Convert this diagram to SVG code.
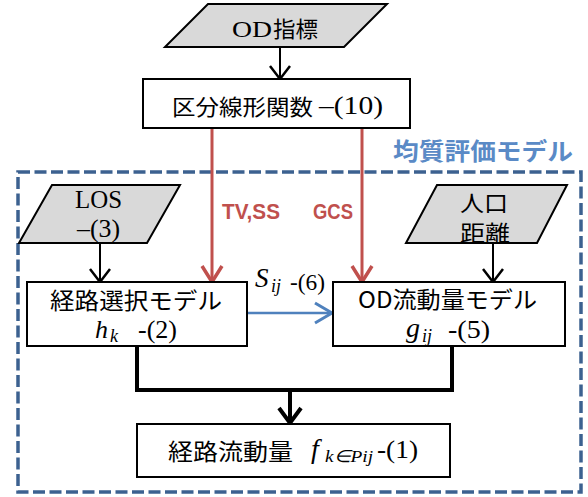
<svg xmlns="http://www.w3.org/2000/svg" width="588" height="497" viewBox="0 0 588 497">
<style>
.bg{fill:#ffffff}
.box{fill:#ffffff;stroke:#000000;stroke-width:2}
.para{fill:#d9d9d9;stroke:#000000;stroke-width:2}
.jp{font-family:"Noto Sans CJK JP","Noto Sans",sans-serif;fill:#000000}
.tm{font-family:"Liberation Serif","Times New Roman",serif;fill:#000000}
.mi{font-family:"Liberation Serif","Times New Roman",serif;font-style:italic;fill:#000000}
.lab{font-family:"Liberation Sans","Open Sans",sans-serif;font-weight:bold;fill:#c0504d}
.grp{font-family:"Noto Sans CJK JP","Noto Sans",sans-serif;font-weight:bold;fill:#5a8ac6}
.blk{fill:none;stroke:#000000;stroke-width:2}
.thick{fill:none;stroke:#000000;stroke-width:4}
.red{fill:none;stroke:#c0504d;stroke-width:3}
.blue{fill:none;stroke:#4f81bd;stroke-width:2.5}
.dash{fill:none;stroke:#3c6190;stroke-width:3.5;stroke-dasharray:12 4.5}
</style>
<defs>
<marker id="ahB" viewBox="-16 -12 18 24" refX="0" refY="0" markerWidth="18" markerHeight="24" markerUnits="userSpaceOnUse" orient="auto">
<path d="M-13,-10 L0,0 L-13,10" fill="none" stroke="#000000" stroke-width="2.5"/>
</marker>
<marker id="ahT" viewBox="-18 -14 21 28" refX="0" refY="0" markerWidth="21" markerHeight="28" markerUnits="userSpaceOnUse" orient="auto">
<path d="M-15,-11 L0,0 L-15,11" fill="none" stroke="#000000" stroke-width="4"/>
</marker>
<marker id="ahR" viewBox="-18 -13 21 26" refX="0" refY="0" markerWidth="21" markerHeight="26" markerUnits="userSpaceOnUse" orient="auto">
<path d="M-16,-10 L0,0 L-16,10" fill="none" stroke="#c0504d" stroke-width="3.5"/>
</marker>
<marker id="ahU" viewBox="-18 -13 21 26" refX="0" refY="0" markerWidth="21" markerHeight="26" markerUnits="userSpaceOnUse" orient="auto">
<path d="M-17,-10 L0,0 L-17,10" fill="none" stroke="#4f81bd" stroke-width="3"/>
</marker>
</defs>
<rect class="bg" x="0" y="0" width="588" height="497"/>

<g id="group-homogeneous">
<rect class="dash" x="18" y="172" width="563" height="320"/>
<text class="grp" x="393" y="160" font-size="24" textLength="180" lengthAdjust="spacingAndGlyphs">均質評価モデル</text>
</g>

<g id="connectors">
<line class="blk" x1="280" y1="47" x2="280" y2="79" marker-end="url(#ahB)"/>
<line class="red" x1="212" y1="128" x2="212" y2="282" marker-end="url(#ahR)"/>
<line class="red" x1="362" y1="128" x2="362" y2="282" marker-end="url(#ahR)"/>
<line class="blk" x1="100" y1="243" x2="100" y2="282" marker-end="url(#ahB)"/>
<line class="blk" x1="493" y1="243" x2="493" y2="282" marker-end="url(#ahB)"/>
<line class="blue" x1="247" y1="313" x2="332" y2="313" marker-end="url(#ahU)"/>
<polyline class="thick" points="137,346 137,390 452,390 452,346"/>
<line class="thick" x1="290" y1="390" x2="290" y2="423" marker-end="url(#ahT)"/>
<text class="lab" x="222" y="219" font-size="22" textLength="58" lengthAdjust="spacingAndGlyphs">TV,SS</text>
<text class="lab" x="313" y="219" font-size="22" textLength="40" lengthAdjust="spacingAndGlyphs">GCS</text>
<text class="mi" x="255" y="287" font-size="27">S</text>
<text class="mi" x="271" y="292" font-size="18">ij</text>
<text class="tm" x="290" y="290" font-size="24" textLength="35" lengthAdjust="spacingAndGlyphs">-(6)</text>
</g>

<g id="node-od-index">
<polygon class="para" points="208,4 387,4 344,47 165,47"/>
<text class="tm" x="232" y="37" font-size="23" textLength="40" lengthAdjust="spacingAndGlyphs">OD</text>
<text class="jp" x="273" y="37" font-size="22" textLength="45" lengthAdjust="spacingAndGlyphs">指標</text>
</g>

<g id="node-piecewise">
<rect class="box" x="143" y="79" width="267" height="49"/>
<text class="jp" x="172" y="114.5" font-size="22" textLength="141" lengthAdjust="spacingAndGlyphs">区分線形関数</text>
<text class="tm" x="319" y="114" font-size="25" textLength="64" lengthAdjust="spacingAndGlyphs">–(10)</text>
</g>

<g id="node-los">
<polygon class="para" points="52,185 180,185 147,243 19,243"/>
<text class="tm" x="75" y="208" font-size="25" textLength="47" lengthAdjust="spacingAndGlyphs">LOS</text>
<text class="tm" x="77" y="237" font-size="25" textLength="43" lengthAdjust="spacingAndGlyphs">–(3)</text>
</g>

<g id="node-population">
<polygon class="para" points="437,185 567,185 537,243 406,243"/>
<text class="jp" x="460" y="211" font-size="22" textLength="48" lengthAdjust="spacingAndGlyphs">人口</text>
<text class="jp" x="460" y="240.5" font-size="22" textLength="50" lengthAdjust="spacingAndGlyphs">距離</text>
</g>

<g id="node-route-choice">
<rect class="box" x="27" y="282" width="220" height="64"/>
<text class="jp" x="50" y="308.5" font-size="23" textLength="172" lengthAdjust="spacingAndGlyphs">経路選択モデル</text>
<text class="mi" x="95" y="338" font-size="26">h</text>
<text class="mi" x="110" y="342" font-size="18">k</text>
<text class="tm" x="138" y="338" font-size="25" textLength="39" lengthAdjust="spacingAndGlyphs">-(2)</text>
</g>

<g id="node-od-flow">
<rect class="box" x="333" y="282" width="232" height="64"/>
<text class="jp" x="358" y="307.5" font-size="23" textLength="179" lengthAdjust="spacingAndGlyphs">OD流動量モデル</text>
<text class="mi" x="406" y="337" font-size="28">g</text>
<text class="mi" x="422" y="342" font-size="18">ij</text>
<text class="tm" x="448" y="338" font-size="25" textLength="42" lengthAdjust="spacingAndGlyphs">-(5)</text>
</g>

<g id="node-route-flow">
<rect class="box" x="137" y="424" width="313" height="53"/>
<text class="jp" x="168" y="460" font-size="23" textLength="125" lengthAdjust="spacingAndGlyphs">経路流動量</text>
<text class="mi" x="311" y="458" font-size="28">f</text>
<text class="mi" x="325" y="462" font-size="17" textLength="48" lengthAdjust="spacingAndGlyphs">k∈Pij</text>
<text class="tm" x="377" y="458" font-size="25" textLength="41" lengthAdjust="spacingAndGlyphs">-(1)</text>
</g>
</svg>
